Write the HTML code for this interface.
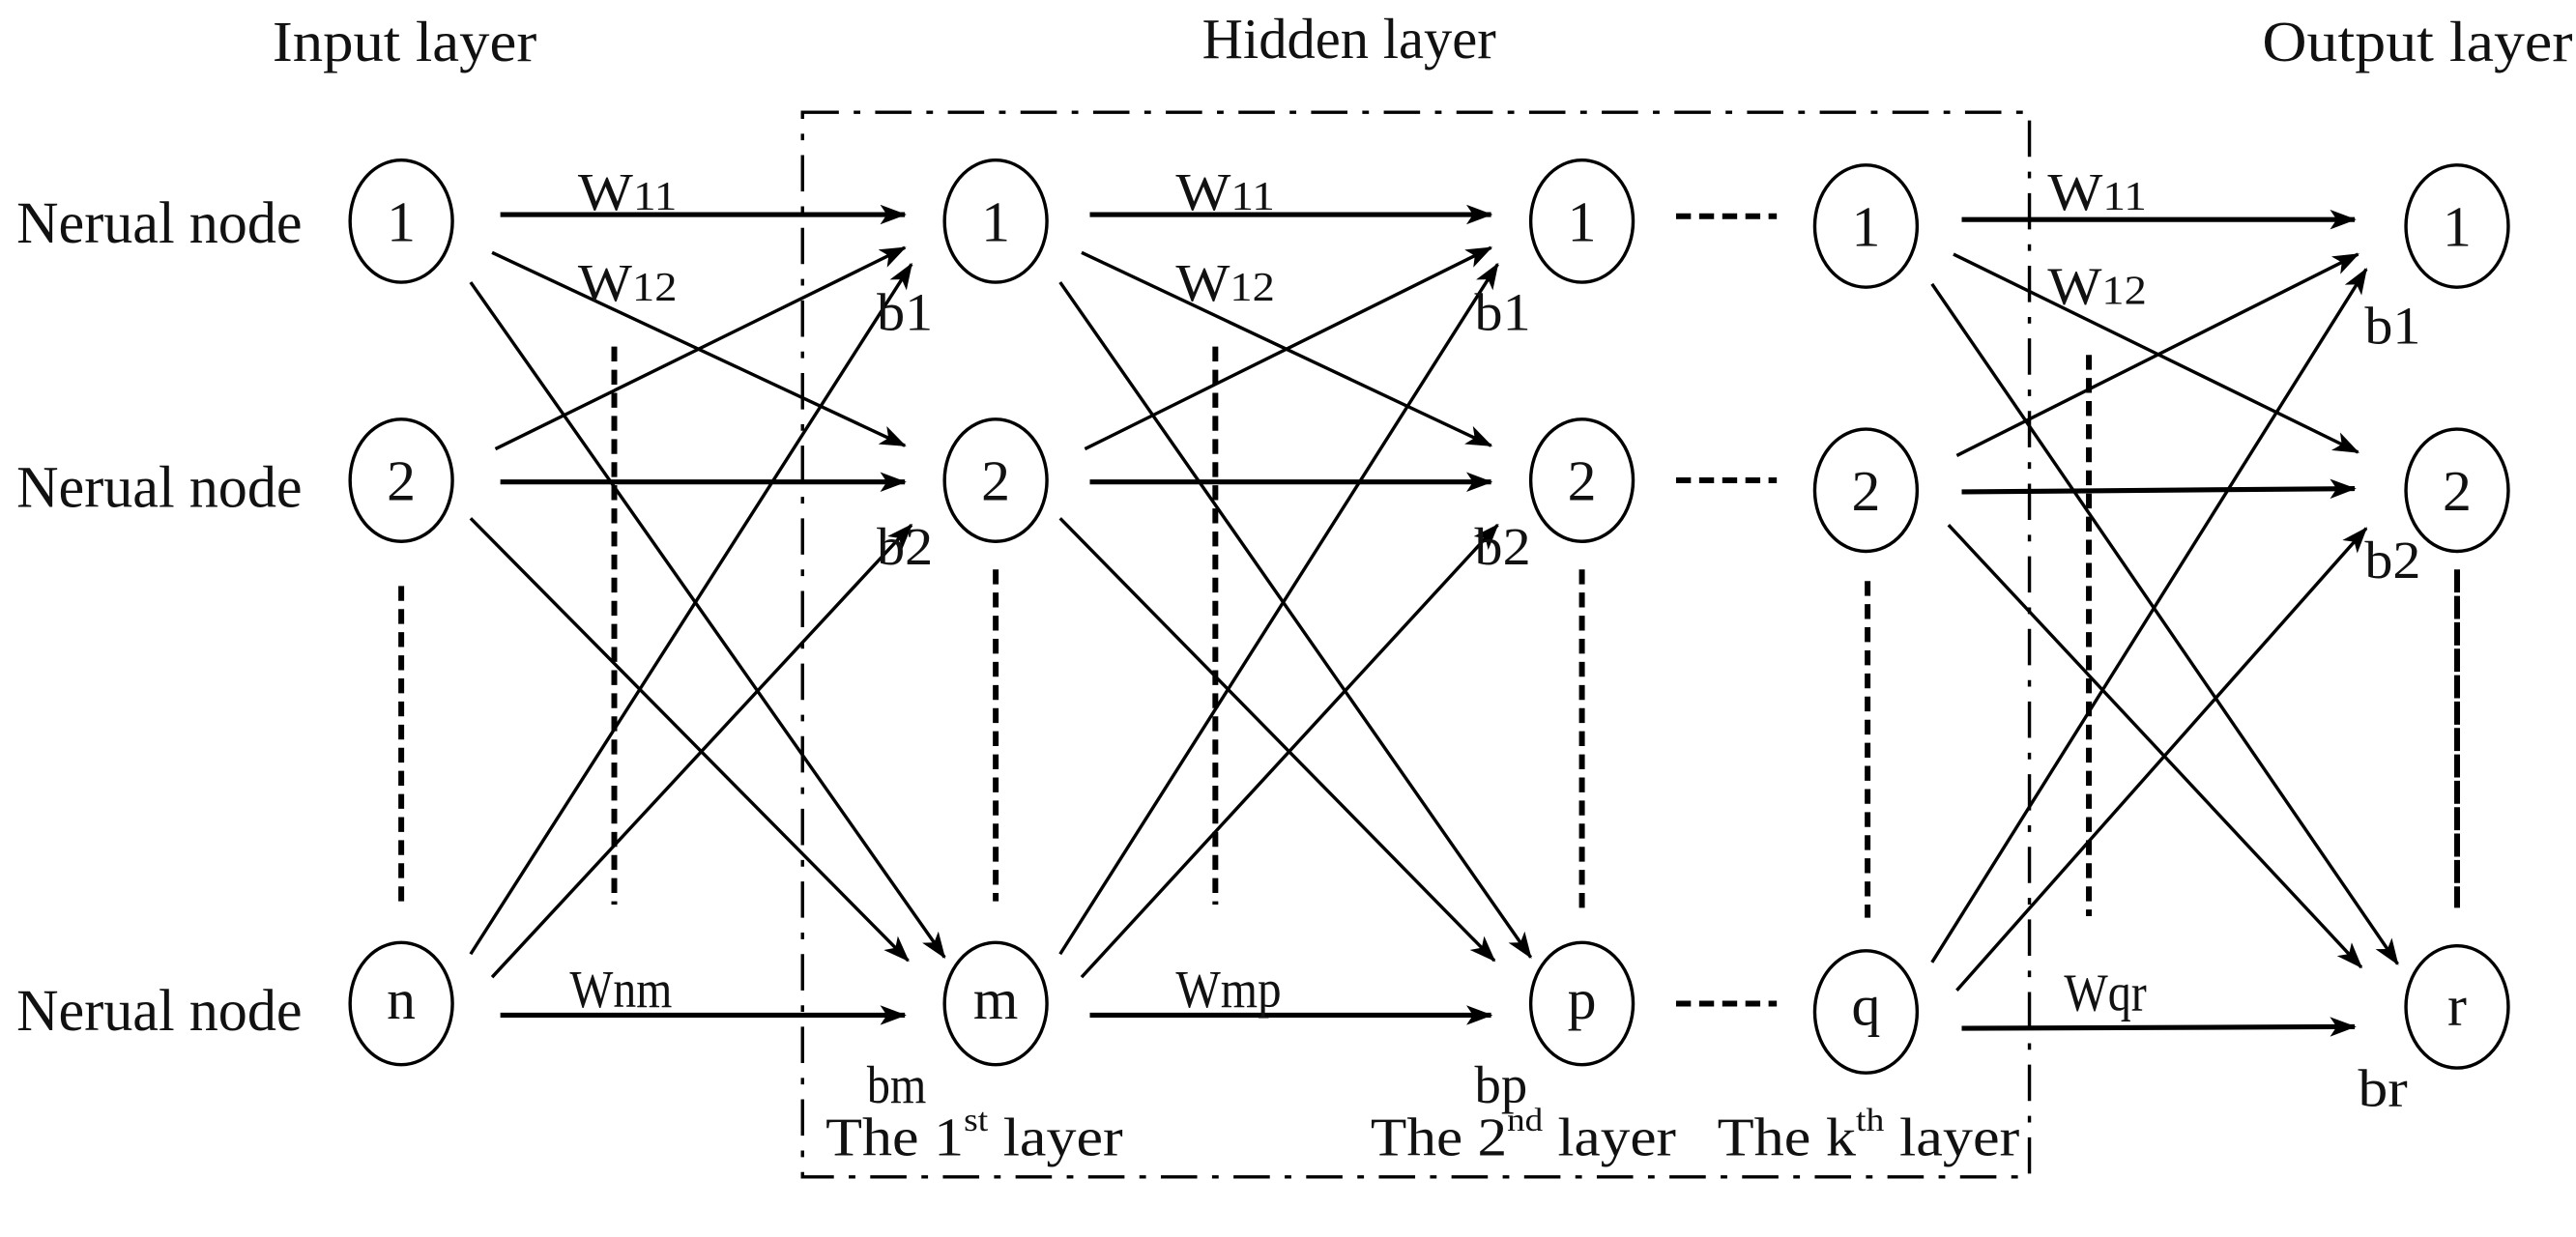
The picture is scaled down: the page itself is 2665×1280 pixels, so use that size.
<!DOCTYPE html>
<html><head><meta charset="utf-8"><style>
html,body{margin:0;padding:0;background:#fff;}
svg{display:block;}
text{font-family:"Liberation Serif",serif;fill:#111;}
</style></head><body>
<svg width="2665" height="1280" viewBox="0 0 1560 749.4" preserveAspectRatio="none">
<defs>
<marker id="a" markerWidth="16" markerHeight="12" refX="15" refY="6" orient="auto" markerUnits="userSpaceOnUse">
<path d="M0,0 L16,6 L0,12 L4,6 Z" fill="#000"/></marker>
</defs>
<rect x="0" y="0" width="1560" height="750" fill="#fff"/>
<rect x="486" y="68" width="743" height="645" fill="none" stroke="#000" stroke-width="2" stroke-dasharray="22,9,4,9"/>

<text x="165" y="37" font-size="35" textLength="160" lengthAdjust="spacingAndGlyphs">Input layer</text>
<text x="728" y="35" font-size="35" textLength="178" lengthAdjust="spacingAndGlyphs">Hidden layer</text>
<text x="1370" y="37" font-size="35" textLength="188" lengthAdjust="spacingAndGlyphs">Output layer</text>
<text x="10" y="147" font-size="36" textLength="173" lengthAdjust="spacingAndGlyphs">Nerual node</text>
<text x="10" y="307" font-size="36" textLength="173" lengthAdjust="spacingAndGlyphs">Nerual node</text>
<text x="10" y="624" font-size="36" textLength="173" lengthAdjust="spacingAndGlyphs">Nerual node</text>

<g fill="none" stroke="#000" stroke-width="2">
<ellipse cx="243" cy="134" rx="31" ry="37"/><ellipse cx="243" cy="291" rx="31" ry="37"/><ellipse cx="243" cy="608" rx="31" ry="37"/>
<ellipse cx="603" cy="134" rx="31" ry="37"/><ellipse cx="603" cy="291" rx="31" ry="37"/><ellipse cx="603" cy="608" rx="31" ry="37"/>
<ellipse cx="958" cy="134" rx="31" ry="37"/><ellipse cx="958" cy="291" rx="31" ry="37"/><ellipse cx="958" cy="608" rx="31" ry="37"/>
<ellipse cx="1130" cy="137" rx="31" ry="37"/><ellipse cx="1130" cy="297" rx="31" ry="37"/><ellipse cx="1130" cy="613" rx="31" ry="37"/>
<ellipse cx="1488" cy="137" rx="31" ry="37"/><ellipse cx="1488" cy="297" rx="31" ry="37"/><ellipse cx="1488" cy="610" rx="31" ry="37"/>
</g>
<g font-size="35" text-anchor="middle">
<text x="243" y="146">1</text><text x="243" y="303">2</text><text x="243" y="617">n</text>
<text x="603" y="146">1</text><text x="603" y="303">2</text><text x="603" y="617">m</text>
<text x="958" y="146">1</text><text x="958" y="303">2</text><text x="958" y="617">p</text>
<text x="1130" y="149">1</text><text x="1130" y="309">2</text><text x="1130" y="621">q</text>
<text x="1488" y="149">1</text><text x="1488" y="309">2</text><text x="1488" y="621">r</text>
</g>

<g stroke="#000" stroke-width="2" marker-end="url(#a)">
<line x1="303" y1="130" x2="548" y2="130" stroke-width="3"/>
<line x1="298" y1="153" x2="548" y2="270"/>
<line x1="285" y1="171" x2="572" y2="580"/>
<line x1="300" y1="272" x2="548" y2="150"/>
<line x1="303" y1="292" x2="548" y2="292" stroke-width="3"/>
<line x1="285" y1="314" x2="550" y2="582"/>
<line x1="285" y1="578" x2="552" y2="160"/>
<line x1="298" y1="592" x2="552" y2="318"/>
<line x1="303" y1="615" x2="548" y2="615" stroke-width="3"/>
<line x1="660" y1="130" x2="903" y2="130" stroke-width="3"/>
<line x1="655" y1="153" x2="903" y2="270"/>
<line x1="642" y1="171" x2="927" y2="580"/>
<line x1="657" y1="272" x2="903" y2="150"/>
<line x1="660" y1="292" x2="903" y2="292" stroke-width="3"/>
<line x1="642" y1="314" x2="905" y2="582"/>
<line x1="642" y1="578" x2="907" y2="160"/>
<line x1="655" y1="592" x2="907" y2="318"/>
<line x1="660" y1="615" x2="903" y2="615" stroke-width="3"/>
<line x1="1188" y1="133" x2="1426" y2="133" stroke-width="3"/>
<line x1="1183" y1="154" x2="1428" y2="274"/>
<line x1="1170" y1="172" x2="1452" y2="584"/>
<line x1="1185" y1="276" x2="1428" y2="154"/>
<line x1="1188" y1="298" x2="1426" y2="296" stroke-width="3"/>
<line x1="1180" y1="318" x2="1430" y2="586"/>
<line x1="1170" y1="583" x2="1433" y2="163"/>
<line x1="1185" y1="600" x2="1433" y2="320"/>
<line x1="1188" y1="623" x2="1426" y2="622" stroke-width="3"/>
</g>

<g stroke="#000" stroke-width="3.5" stroke-dasharray="9,5">
<line x1="243" y1="355" x2="243" y2="546"/>
<line x1="372" y1="210" x2="372" y2="548"/>
<line x1="603" y1="345" x2="603" y2="546"/>
<line x1="736" y1="210" x2="736" y2="548"/>
<line x1="958" y1="345" x2="958" y2="550"/>
<line x1="1131" y1="352" x2="1131" y2="556"/>
<line x1="1265" y1="215" x2="1265" y2="555"/>
<line x1="1488" y1="345" x2="1488" y2="550" stroke-dasharray="14,2"/>
<line x1="1015" y1="131" x2="1076" y2="131"/>
<line x1="1015" y1="291" x2="1076" y2="291"/>
<line x1="1015" y1="608" x2="1076" y2="608"/>
</g>

<g font-size="32">
<text x="350" y="127" textLength="60" lengthAdjust="spacingAndGlyphs">W<tspan font-size="25">11</tspan></text>
<text x="350" y="182" textLength="60" lengthAdjust="spacingAndGlyphs">W<tspan font-size="25">12</tspan></text>
<text x="345" y="610" textLength="62" lengthAdjust="spacingAndGlyphs">Wnm</text>
<text x="712" y="127" textLength="60" lengthAdjust="spacingAndGlyphs">W<tspan font-size="25">11</tspan></text>
<text x="712" y="182" textLength="60" lengthAdjust="spacingAndGlyphs">W<tspan font-size="25">12</tspan></text>
<text x="712" y="610" textLength="64" lengthAdjust="spacingAndGlyphs">Wmp</text>
<text x="1240" y="127" textLength="60" lengthAdjust="spacingAndGlyphs">W<tspan font-size="25">11</tspan></text>
<text x="1240" y="184" textLength="60" lengthAdjust="spacingAndGlyphs">W<tspan font-size="25">12</tspan></text>
<text x="1250" y="612" textLength="50" lengthAdjust="spacingAndGlyphs">Wqr</text>
</g>
<g font-size="32">
<text x="531" y="200" textLength="34" lengthAdjust="spacingAndGlyphs">b1</text>
<text x="531" y="342" textLength="34" lengthAdjust="spacingAndGlyphs">b2</text>
<text x="525" y="668" textLength="36" lengthAdjust="spacingAndGlyphs">bm</text>
<text x="893" y="200" textLength="34" lengthAdjust="spacingAndGlyphs">b1</text>
<text x="893" y="342" textLength="34" lengthAdjust="spacingAndGlyphs">b2</text>
<text x="893" y="668" textLength="32" lengthAdjust="spacingAndGlyphs">bp</text>
<text x="1432" y="208" textLength="34" lengthAdjust="spacingAndGlyphs">b1</text>
<text x="1432" y="350" textLength="34" lengthAdjust="spacingAndGlyphs">b2</text>
<text x="1428" y="670" textLength="30" lengthAdjust="spacingAndGlyphs">br</text>
</g>
<g font-size="33">
<text x="500" y="700" textLength="180" lengthAdjust="spacingAndGlyphs">The 1<tspan font-size="20" dy="-15">st</tspan><tspan dy="15"> layer</tspan></text>
<text x="830" y="700" textLength="185" lengthAdjust="spacingAndGlyphs">The 2<tspan font-size="20" dy="-15">nd</tspan><tspan dy="15"> layer</tspan></text>
<text x="1040" y="700" textLength="183" lengthAdjust="spacingAndGlyphs">The k<tspan font-size="20" dy="-15">th</tspan><tspan dy="15"> layer</tspan></text>
</g>
</svg>
</body></html>
